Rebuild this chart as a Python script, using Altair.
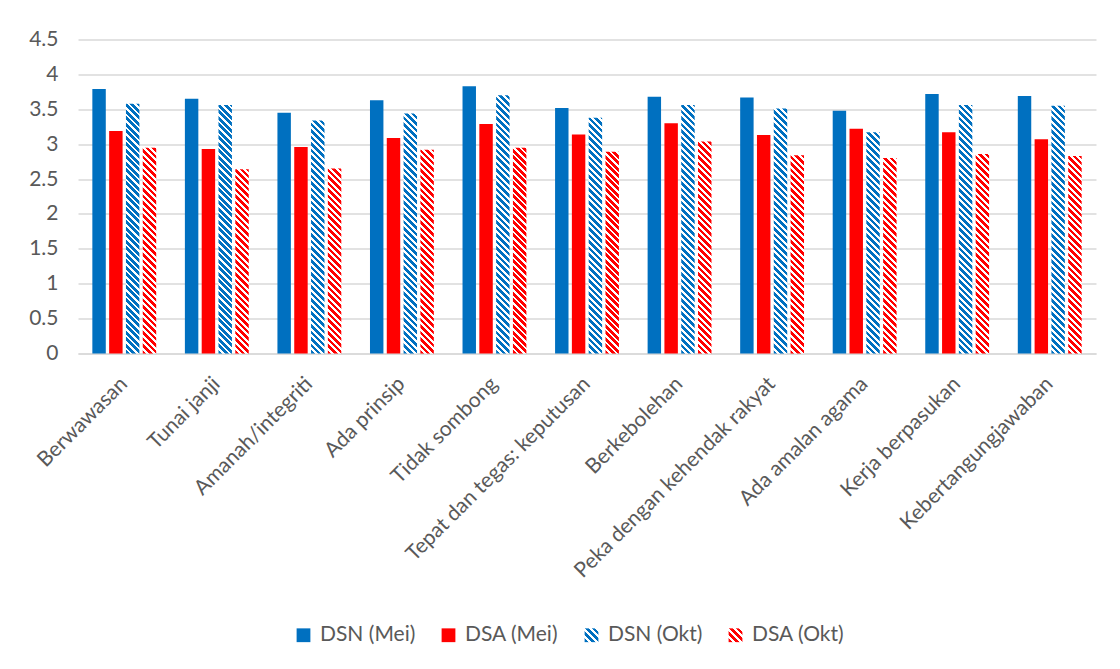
import altair as alt
import pandas as pd

kategori = [
    "Berwawasan", "Tunai janji", "Amanah/integriti", "Ada prinsip",
    "Tidak sombong", "Tepat dan tegas: keputusan", "Berkebolehan",
    "Peka dengan kehendak rakyat", "Ada amalan agama", "Kerja berpasukan",
    "Kebertangungjawaban",
]
siri = ["DSN (Mei)", "DSA (Mei)", "DSN (Okt)", "DSA (Okt)"]
dsn_mei = [3.79, 3.65, 3.45, 3.63, 3.83, 3.52, 3.68, 3.67, 3.48, 3.72, 3.69]
dsa_mei = [3.19, 2.93, 2.96, 3.09, 3.29, 3.14, 3.30, 3.13, 3.22, 3.17, 3.07]
dsn_okt = [3.58, 3.56, 3.34, 3.44, 3.70, 3.38, 3.56, 3.51, 3.17, 3.56, 3.55]
dsa_okt = [2.95, 2.64, 2.65, 2.92, 2.95, 2.89, 3.04, 2.84, 2.80, 2.86, 2.83]
y_ticks = [0, 0.5, 1, 1.5, 2, 2.5, 3, 3.5, 4, 4.5]

rows = []
for s, vals in zip(siri, [dsn_mei, dsa_mei, dsn_okt, dsa_okt]):
    for k, v in zip(kategori, vals):
        rows.append({"kategori": k, "siri": s, "nilai": v})
df = pd.DataFrame(rows)

BLUE = "#0070C0"
RED = "#FF0000"
WHITE = "#FFFFFF"
TXT = "#595959"
GRID = "#D9D9D9"
FONT = "Lato"
FS = 21

PW, PH, YMAX = 1018, 314, 4.5
P_IN, P_OUT = 0.31, 0.155
SUB_IN = 0.2
step = PW / (11 - P_IN + 2 * P_OUT)
bandw = step * (1 - P_IN)
barw = bandw / (4 - SUB_IN) * (1 - SUB_IN)
PERIOD = 6.5
FILLFRAC = 0.55


def stripe_stops(color, dt):
    st = []
    t = 0.0
    while t < 1.0:
        m = min(t + dt * FILLFRAC, 1.0)
        e = min(t + dt, 1.0)
        st += [(t, color), (m, color), (m, WHITE), (e, WHITE)]
        t += dt
    return st


def bar_gradient(color, w, h):
    k = h / w
    a = (1 + k) / (1 + k * k)
    dt = PERIOD / (w + h)
    return {
        "gradient": "linear", "x1": 0, "y1": 1, "x2": a, "y2": 1 - a * k,
        "stops": [{"offset": round(o, 5), "color": c} for o, c in stripe_stops(color, dt)],
    }


def legend_expr(color):
    st = stripe_stops(color, 0.25)
    s = ",".join("{offset:%.4f,color:'%s'}" % (o, c) for o, c in st)
    return "{gradient:'linear',x1:0,y1:1,x2:1,y2:0,stops:[" + s + "]}"


base = alt.Chart(df).encode(
    x=alt.X(
        "kategori:N", sort=kategori,
        scale=alt.Scale(paddingInner=P_IN, paddingOuter=P_OUT),
        axis=alt.Axis(
            title=None, ticks=False, domainColor=GRID, domainWidth=1.3,
            labelAngle=315, labelAlign="right", labelBaseline="middle",
            labelPadding=27, labelLimit=0, labelOverlap=False,
            labelFont=FONT, labelFontSize=FS, labelColor=TXT,
        ),
    ),
    xOffset=alt.XOffset(
        "siri:N", sort=siri,
        scale=alt.Scale(domain=siri, paddingInner=SUB_IN, paddingOuter=0),
    ),
    y=alt.Y(
        "nilai:Q", scale=alt.Scale(domain=[0, YMAX], nice=False),
        axis=alt.Axis(
            title=None, values=y_ticks, format="~g", ticks=False, domain=False,
            gridColor=GRID, gridWidth=1.3, labelPadding=20,
            labelFont=FONT, labelFontSize=FS, labelColor=TXT,
        ),
    ),
)

mei = base.mark_bar().encode(
    color=alt.Color(
        "siri:N",
        scale=alt.Scale(
            domain=siri,
            range=[BLUE, RED, {"expr": legend_expr(BLUE)}, {"expr": legend_expr(RED)}],
        ),
        legend=alt.Legend(
            title=None, orient="none", direction="horizontal",
            legendX=215, legendY=585,
            symbolType="square", symbolSize=190, symbolStrokeWidth=0,
            labelFont=FONT, labelFontSize=FS, labelColor=TXT,
            labelOffset=6, columnPadding=22,
        ),
    ),
).transform_filter(alt.FieldOneOfPredicate(field="siri", oneOf=siri[:2]))

hatch_layers = []
for s, vals, col in [("DSN (Okt)", dsn_okt, BLUE), ("DSA (Okt)", dsa_okt, RED)]:
    for k, v in zip(kategori, vals):
        h = v / YMAX * PH
        g = bar_gradient(col, barw, h)
        hatch_layers.append(
            base.mark_bar(fill=g).transform_filter(
                (alt.datum.siri == s) & (alt.datum.kategori == k)
            )
        )

chart = alt.layer(mei, *hatch_layers).properties(
    width=PW, height=PH,
    autosize=alt.AutoSizeParams(type="none"),
    padding={"left": 70, "top": 31.5, "right": 16, "bottom": 305},
    background="white",
).configure_view(strokeWidth=0)

chart.save("out.html", embed_options={"renderer": "svg", "actions": False})
